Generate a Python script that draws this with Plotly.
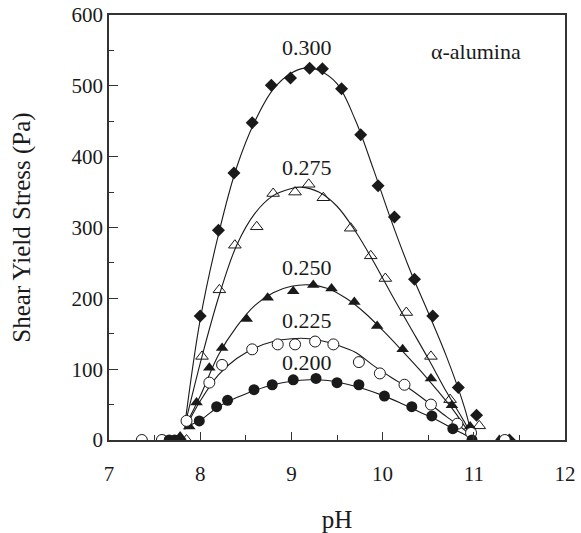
import plotly.graph_objects as go

# ---- measured data points (pH, shear yield stress in Pa) ----
ph_300 = [7.78, 8.00, 8.20, 8.37, 8.57, 8.78, 8.99, 9.20, 9.34, 9.55, 9.76, 9.95, 10.13, 10.35, 10.55, 10.83, 11.03, 11.39]
ys_300 = [0, 175, 296, 377, 448, 501, 511, 525, 524, 496, 431, 359, 315, 227, 175, 74, 35, 0]

ph_275 = [7.85, 8.02, 8.21, 8.38, 8.62, 8.80, 9.04, 9.19, 9.35, 9.65, 9.87, 10.03, 10.26, 10.53, 10.74, 11.06]
ys_275 = [0, 118, 212, 275, 301, 348, 350, 361, 342, 299, 260, 228, 180, 118, 57, 20]

ph_250 = [7.61, 7.78, 7.88, 7.96, 8.10, 8.24, 8.51, 8.74, 9.02, 9.24, 9.44, 9.69, 9.94, 10.22, 10.53, 10.76, 10.96, 11.28]
ys_250 = [0, 5, 19, 53, 102, 130, 171, 201, 210, 219, 214, 195, 161, 128, 87, 49, 19, 0]

ph_225 = [7.36, 7.58, 7.85, 8.10, 8.24, 8.57, 8.85, 9.04, 9.26, 9.46, 9.74, 9.97, 10.24, 10.53, 10.82, 10.97, 11.34]
ys_225 = [0, 0, 27, 81, 106, 128, 135, 135, 139, 135, 110, 94, 78, 50, 23, 10, 0]

ph_200 = [7.66, 7.72, 7.99, 8.18, 8.30, 8.59, 8.79, 9.02, 9.27, 9.50, 9.74, 10.02, 10.32, 10.54, 10.77, 10.98]
ys_200 = [0, 0, 27, 47, 56, 71, 78, 85, 87, 81, 78, 62, 47, 34, 16, 0]

# ---- fitted curves ----
fit_ph_300 = [7.83, 8.0, 8.2, 8.4, 8.6, 8.8, 9.0, 9.15, 9.3, 9.5, 9.7, 9.9, 10.1, 10.3, 10.5, 10.7, 10.9, 10.98]
fit_ys_300 = [20, 170, 290, 385, 450, 495, 518, 525, 522, 503, 452, 382, 308, 240, 180, 118, 45, 5]

fit_ph_275 = [7.83, 8.02, 8.21, 8.4, 8.6, 8.8, 9.0, 9.1, 9.3, 9.5, 9.7, 9.9, 10.1, 10.3, 10.5, 10.7, 10.9, 10.98]
fit_ys_275 = [20, 118, 205, 275, 320, 345, 355, 357, 350, 330, 295, 252, 205, 160, 115, 68, 25, 5]

fit_ph_250 = [7.83, 8.0, 8.2, 8.4, 8.6, 8.8, 9.0, 9.2, 9.4, 9.6, 9.8, 10.0, 10.2, 10.4, 10.6, 10.8, 10.97]
fit_ys_250 = [18, 62, 120, 160, 190, 208, 217, 219, 214, 200, 180, 155, 128, 100, 70, 38, 6]

fit_ph_225 = [7.83, 8.0, 8.2, 8.4, 8.6, 8.8, 9.0, 9.2, 9.4, 9.5, 9.7, 9.9, 10.1, 10.3, 10.5, 10.7, 10.9, 10.97]
fit_ys_225 = [15, 55, 92, 115, 130, 139, 143, 143, 138, 134, 124, 105, 88, 72, 53, 33, 14, 5]

fit_ph_200 = [7.83, 8.0, 8.2, 8.4, 8.6, 8.8, 9.0, 9.2, 9.4, 9.6, 9.8, 10.0, 10.2, 10.4, 10.6, 10.8, 10.97]
fit_ys_200 = [18, 28, 47, 60, 70, 78, 83, 85, 84, 79, 72, 63, 52, 40, 28, 14, 3]

labels = ["0.300", "0.275", "0.250", "0.225", "0.200"]
label_ph = [9.17, 9.17, 9.17, 9.17, 9.17]
label_ys = [554, 385, 244, 169, 110]

INK = "#1a1a1a"
FONT = "Liberation Serif"

fig = go.Figure()

fits = [(fit_ph_300, fit_ys_300), (fit_ph_275, fit_ys_275), (fit_ph_250, fit_ys_250),
        (fit_ph_225, fit_ys_225), (fit_ph_200, fit_ys_200)]
for fx, fy in fits:
    fig.add_trace(go.Scatter(x=fx, y=fy, mode="lines", line=dict(color=INK, width=1.1, shape="spline", smoothing=1.0),
                             hoverinfo="skip", showlegend=False))

series = [
    (ph_300, ys_300, dict(symbol="diamond", size=10, color=INK, line=dict(color=INK, width=0))),
    (ph_275, ys_275, dict(symbol="triangle-up-open", size=11, color=INK, line=dict(color=INK, width=1))),
    (ph_250, ys_250, dict(symbol="triangle-up", size=11, color=INK, line=dict(color=INK, width=0))),
    (ph_225, ys_225, dict(symbol="circle", size=11, color="white", line=dict(color=INK, width=1))),
    (ph_200, ys_200, dict(symbol="circle", size=11, color=INK, line=dict(color=INK, width=0))),
]
for sx, sy, mk in series:
    fig.add_trace(go.Scatter(x=sx, y=sy, mode="markers", marker=mk, showlegend=False))

for t, lx, ly in zip(labels, label_ph, label_ys):
    fig.add_annotation(x=lx, y=ly, text=t, showarrow=False, font=dict(family=FONT, size=22, color=INK))

fig.add_annotation(x=11.02, y=549, text="α-alumina", showarrow=False, font=dict(family=FONT, size=22, color=INK))

axis_common = dict(
    showgrid=False, zeroline=False, showline=True, linecolor="#333", linewidth=1.5, mirror=True,
    ticks="inside", tickcolor="#333", tickwidth=1.3, automargin=False, ticklabeloverflow="allow",
    tickfont=dict(family=FONT, size=21, color=INK),
)

fig.update_xaxes(range=[7, 12], tickvals=[7, 8, 9, 10, 11, 12], ticklen=8,
                 minor=dict(ticks="inside", dtick=0.5, tick0=7, ticklen=5, tickcolor="#333", tickwidth=1.3),
                 ticklabelstandoff=14,
                 title=dict(text="pH", font=dict(family=FONT, size=25, color=INK), standoff=30),
                 **axis_common)
fig.update_yaxes(range=[0, 600], tickvals=[0, 100, 200, 300, 400, 500, 600], ticklen=9,
                 minor=dict(ticks="inside", dtick=50, tick0=0, ticklen=5, tickcolor="#333", tickwidth=1.3),
                 title=dict(text="Shear Yield Stress (Pa)", font=dict(family=FONT, size=25, color=INK), standoff=34),
                 **axis_common)

fig.update_layout(
    template="none",
    width=581, height=533,
    margin=dict(l=109, r=16, t=15, b=93),
    paper_bgcolor="white", plot_bgcolor="white",
    showlegend=False,
)

# remove the default 8px page margin so the figure fills the window exactly
fig.write_html("out.html", config={"displayModeBar": False},
               post_script="document.body.style.margin='0';")
